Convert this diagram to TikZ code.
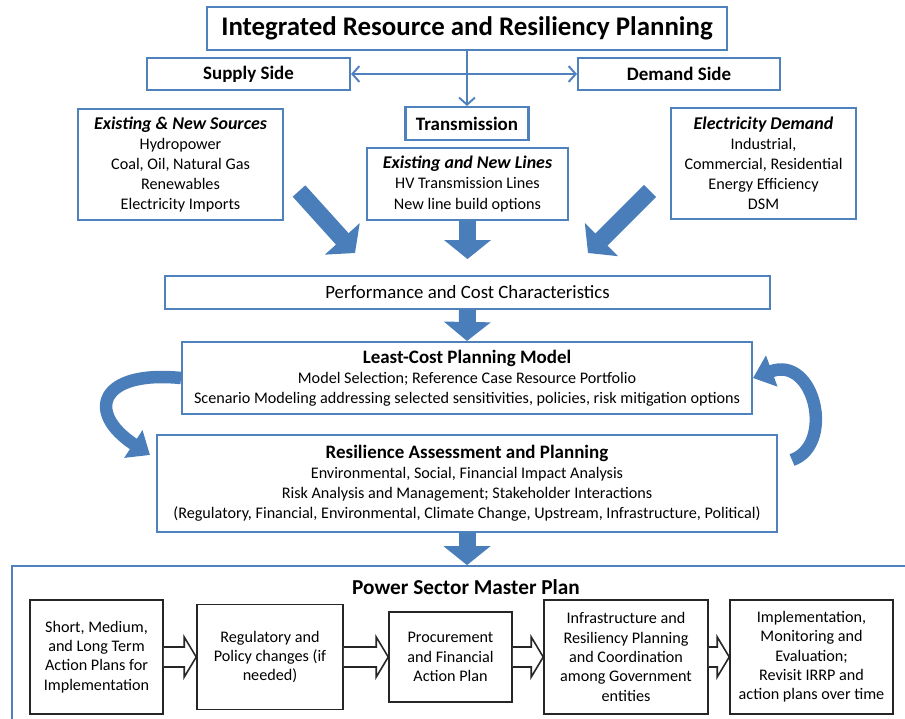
\documentclass[tikz,border=0pt]{standalone}
\usepackage{fontspec}
\setmainfont{Carlito}
\usetikzlibrary{arrows.meta,calc}

\definecolor{boxblue}{RGB}{79,129,189}
\definecolor{arrowblue}{RGB}{74,126,187}

\newcommand{\bodytxt}{\fontsize{9.2}{11.4}\selectfont}
\newcommand{\headtxt}{\fontsize{10.8}{12.8}\selectfont\bfseries}
\newcommand{\headit}{\fontsize{10.2}{12.2}\selectfont\bfseries\itshape}

\tikzset{
  bluebox/.style={draw=boxblue, line width=1.2pt, fill=white, align=center, inner sep=2pt, font=\bodytxt},
  stepbox/.style={draw=black!85, line width=0.9pt, fill=white, align=center, inner sep=2pt,
    font=\fontsize{9.2}{11}\selectfont},
  thinline/.style={draw=boxblue, line width=1.1pt, >={Straight Barb[length=4pt,width=9pt]}},
  fatarrow/.style={draw=arrowblue, line width=0.34cm, -{Triangle[length=0.38cm,width=0.92cm]}},
  bendarrow/.style={draw=arrowblue, line width=0.25cm, -{Triangle[length=0.4cm,width=0.64cm]}},
  openarrow/.style={draw=black!85, line width=0.9pt, fill=white},
}

% hollow block arrow between two step boxes
\newcommand{\steparrow}[2]{%
  \filldraw[openarrow] ($(#1.east)+(0,-10)$) -- ($(#2.west)+(-12,-10)$) -- ($(#2.west)+(-12,-20)$)
    -- (#2.west) -- ($(#2.west)+(-12,20)$) -- ($(#2.west)+(-12,10)$) -- ($(#1.east)+(0,10)$);}

\begin{document}
\begin{tikzpicture}[x=0.02cm,y=-0.02cm]
\useasboundingbox (0,0) rectangle (905,719);

% master plan frame (runs off the page)
\node[draw=boxblue, line width=1pt, minimum width=17.96cm, minimum height=3.18cm] (master) at (461,645.5) {};
\node[font=\fontsize{12.1}{14.5}\selectfont\bfseries] (mtitle) at (466,587) {Power Sector Master Plan};

% top
\node[bluebox, minimum width=10.4cm, minimum height=0.86cm, font=\fontsize{15.3}{18}\selectfont\bfseries] (irrp) at (467,28.5)
  {Integrated Resource and Resiliency Planning};
\node[bluebox, minimum width=4.06cm, minimum height=0.64cm, font=\headtxt] (supply) at (248.5,74) {Supply Side};
\node[bluebox, minimum width=4.04cm, minimum height=0.64cm, font=\headtxt] (demand) at (679,74) {Demand Side};
\node[bluebox, minimum width=2.46cm, minimum height=0.66cm, font=\headtxt] (trans) at (467,123.5) {Transmission};

\draw[thinline,->] (irrp.south) -- (trans.north);
\draw[thinline,<->] (supply.east) -- (demand.west);

% sources, lines, demand
\node[bluebox, minimum width=4.1cm, minimum height=2.22cm] (sources) at (180.5,164.5)
  {{\headit Existing \& New Sources}\\ Hydropower\\ Coal, Oil, Natural Gas\\ Renewables\\ Electricity Imports};
\node[bluebox, minimum width=4.02cm, minimum height=1.44cm] (lines) at (467.5,184)
  {{\headit Existing and New Lines}\\ HV Transmission Lines\\ New line build options};
\node[bluebox, minimum width=3.7cm, minimum height=2.22cm] (elec) at (763.5,163.5)
  {{\headit Electricity Demand}\\ Industrial,\\ Commercial, Residential\\ Energy Efficiency\\ DSM};

\coordinate (srctail) at (299,191);
\coordinate (srctip) at (355,253);
\coordinate (dmdtail) at (650,191);
\coordinate (dmdtip) at (588,253);
\draw[fatarrow] (srctail) -- (srctip);
\draw[fatarrow] (lines.south) -- ++(0,38);
\draw[fatarrow] (dmdtail) -- (dmdtip);

% planning chain
\node[bluebox, minimum width=12.1cm, minimum height=0.66cm, font=\fontsize{10.7}{12.8}\selectfont] (perf) at (467.5,292.5)
  {Performance and Cost Characteristics};
\node[bluebox, minimum width=11.4cm, minimum height=1.44cm] (lcpm) at (467,378)
  {{\headtxt Least-Cost Planning Model}\\ Model Selection; Reference Case Resource Portfolio\\
   Scenario Modeling addressing selected sensitivities, policies, risk mitigation options};
\node[bluebox, minimum width=12.4cm, minimum height=1.94cm] (resil) at (467,483.5)
  {{\headtxt Resilience Assessment and Planning}\\ Environmental, Social, Financial Impact Analysis\\
   Risk Analysis and Management; Stakeholder Interactions\\
   (Regulatory, Financial, Environmental, Climate Change, Upstream, Infrastructure, Political)};

\draw[fatarrow] (perf.south) -- (lcpm.north);
\draw[fatarrow] (resil.south) -- (resil.south |- master.north);

% feedback loop
\coordinate (lefttip) at (150,455);
\coordinate (backtail) at (792,460);
\draw[bendarrow] (lcpm.west) .. controls (100,370) and (85,412) .. (lefttip);
\draw[bendarrow] (backtail) .. controls (835,445) and (815,355) .. (lcpm.east);

% master plan steps
\node[stepbox, minimum width=2.66cm, minimum height=2.28cm] (s1) at (96.5,657)
  {Short, Medium,\\ and Long Term\\ Action Plans for\\ Implementation};
\node[stepbox, minimum width=2.92cm, minimum height=2.1cm] (s2) at (270,657)
  {Regulatory and\\ Policy changes (if\\ needed)};
\node[stepbox, minimum width=2.46cm, minimum height=1.8cm] (s3) at (450.5,657)
  {Procurement\\ and Financial\\ Action Plan};
\node[stepbox, minimum width=3.28cm, minimum height=2.28cm] (s4) at (626,657)
  {Infrastructure and\\ Resiliency Planning\\ and Coordination\\ among Government\\ entities};
\node[stepbox, minimum width=3.26cm, minimum height=2.28cm] (s5) at (811.5,657)
  {Implementation,\\ Monitoring and\\ Evaluation;\\ Revisit IRRP and\\ action plans over time};

\steparrow{s1}{s2}
\steparrow{s2}{s3}
\steparrow{s3}{s4}
\steparrow{s4}{s5}
\end{tikzpicture}
\end{document}
